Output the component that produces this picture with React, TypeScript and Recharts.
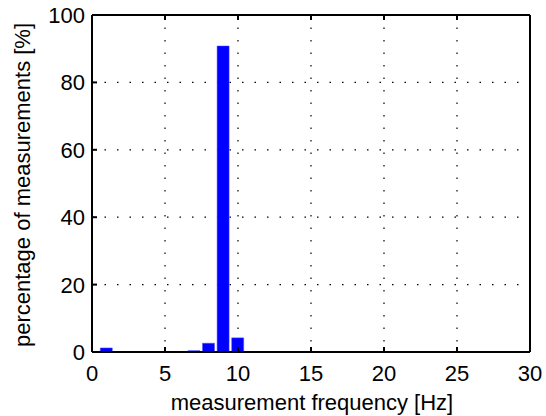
import { BarChart, Bar, XAxis, YAxis, CartesianGrid, Label } from 'recharts';

// measurement frequency [Hz]
const frequencies = [1, 2, 3, 4, 5, 6, 7, 8, 9, 10, 11, 12, 13, 14, 15, 16, 17, 18, 19, 20, 21, 22, 23, 24, 25, 26, 27, 28, 29];
// percentage of measurements [%]
const percentages = [1.2, 0, 0, 0, 0, 0, 0.4, 2.6, 90.8, 4.2, 0, 0, 0, 0, 0, 0, 0, 0, 0, 0, 0, 0, 0, 0, 0, 0, 0, 0, 0];

const xTicks = [0, 5, 10, 15, 20, 25, 30];
const yTicks = [0, 20, 40, 60, 80, 100];

const chartData = frequencies.map((f, i) => ({ freq: f, pct: percentages[i] }));

const FONT = '"Liberation Sans", Arial, sans-serif';
const TICK_LEN = 5;

const BottomTick = (props: any) => {
    const { x, y, payload } = props;
    return (
        <g>
            <line x1={x} y1={y} x2={x} y2={y - TICK_LEN} stroke="#000" strokeWidth={2} />
            <text x={x} y={y + 29} textAnchor="middle" fontFamily={FONT} fontSize={22} fill="#000">
                {payload.value}
            </text>
        </g>
    );
};

const TopTick = (props: any) => {
    const { x, y } = props;
    return <line x1={x} y1={y} x2={x} y2={y + TICK_LEN} stroke="#000" strokeWidth={2} />;
};

const LeftTick = (props: any) => {
    const { x, y, payload } = props;
    return (
        <g>
            <line x1={x} y1={y} x2={x + TICK_LEN} y2={y} stroke="#000" strokeWidth={2} />
            <text x={x - 7} y={y + 8} textAnchor="end" fontFamily={FONT} fontSize={22} fill="#000">
                {payload.value}
            </text>
        </g>
    );
};

const RightTick = (props: any) => {
    const { x, y } = props;
    return <line x1={x} y1={y} x2={x - TICK_LEN} y2={y} stroke="#000" strokeWidth={2} />;
};

export default function App() {
    return (
        <div style={{ position: 'absolute', left: 0, top: 0, width: 546, height: 416, background: '#fff' }}>
            <BarChart
                width={546}
                height={416}
                data={chartData}
                margin={{ top: 14, right: 15, left: 0, bottom: 0 }}
                barSize={12}
            >
                <CartesianGrid stroke="#000" strokeDasharray="1.5 11" strokeWidth={1.2} />
                <XAxis
                    dataKey="freq"
                    type="number"
                    domain={[0, 30]}
                    ticks={xTicks}
                    height={64}
                    tickSize={0}
                    tickMargin={0}
                    axisLine={{ stroke: '#000', strokeWidth: 2 }}
                    tick={BottomTick}
                    interval={0}
                >
                    <Label
                        content={() => (
                            <text x={312} y={410} textAnchor="middle" fontFamily={FONT} fontSize={22} fill="#000">
                                measurement frequency [Hz]
                            </text>
                        )}
                    />
                </XAxis>
                <XAxis
                    xAxisId="top"
                    orientation="top"
                    dataKey="freq"
                    type="number"
                    domain={[0, 30]}
                    ticks={xTicks}
                    height={1}
                    tickSize={0}
                    tickMargin={0}
                    axisLine={{ stroke: '#000', strokeWidth: 2 }}
                    tick={TopTick}
                    interval={0}
                />
                <YAxis
                    type="number"
                    domain={[0, 100]}
                    ticks={yTicks}
                    width={92}
                    tickSize={0}
                    tickMargin={0}
                    axisLine={{ stroke: '#000', strokeWidth: 2 }}
                    tick={LeftTick}
                    interval={0}
                >
                    <Label
                        content={() => (
                            <text
                                x={30}
                                y={185}
                                transform="rotate(-90 30 185)"
                                textAnchor="middle"
                                fontFamily={FONT}
                                fontSize={22}
                                fill="#000"
                            >
                                percentage of measurements [%]
                            </text>
                        )}
                    />
                </YAxis>
                <YAxis
                    yAxisId="right"
                    orientation="right"
                    type="number"
                    domain={[0, 100]}
                    ticks={yTicks}
                    width={1}
                    tickSize={0}
                    tickMargin={0}
                    axisLine={{ stroke: '#000', strokeWidth: 2 }}
                    tick={RightTick}
                    interval={0}
                />
                <Bar dataKey="pct" fill="#0000ff" stroke="#4d4dff" strokeWidth={0.5} isAnimationActive={false} />
            </BarChart>
        </div>
    );
}
